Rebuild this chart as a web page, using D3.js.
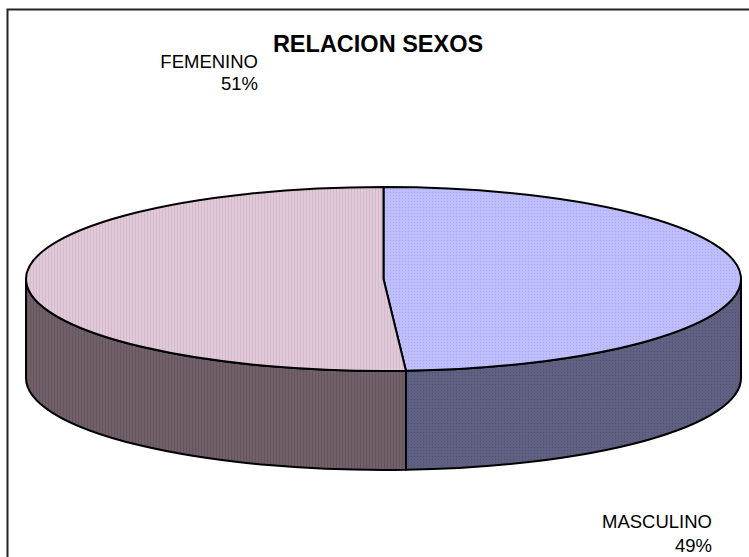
<!DOCTYPE html>
<html>
<head>
<meta charset="utf-8">
<script src="https://cdn.jsdelivr.net/npm/d3@7"></script>
<style>
  body { margin: 0; background: #fff; }
  text { font-family: "Liberation Sans", Arial, sans-serif; }
</style>
</head>
<body>
<svg id="chart" width="749" height="557"></svg>
<script>
// data
const categories = ["MASCULINO", "FEMENINO"];
const values = [49, 51];
const title = "RELACION SEXOS";

// layout
const width = 749, height = 557;
const cx = 383.5, cy = 279;   // centre of top face
const rx = 357.5, ry = 92;    // ellipse radii
const depth = 99;             // thickness of the pie

const svg = d3.select("#chart");

// textures like the excel fills
const defs = svg.append("defs");
function stripes(id, base, line) {
  const p = defs.append("pattern").attr("id", id)
    .attr("patternUnits", "userSpaceOnUse").attr("width", 3).attr("height", 3);
  p.append("rect").attr("width", 3).attr("height", 3).attr("fill", base);
  p.append("rect").attr("width", 1).attr("height", 3).attr("fill", line);
}
function dots(id, base, dot) {
  const p = defs.append("pattern").attr("id", id)
    .attr("patternUnits", "userSpaceOnUse").attr("width", 3).attr("height", 3);
  p.append("rect").attr("width", 3).attr("height", 3).attr("fill", base);
  p.append("rect").attr("width", 1).attr("height", 1).attr("fill", dot);
}
dots("topM", "#bebefc", "#a9a9ec");
stripes("topF", "#e1c9d9", "#d3bbcb");
dots("sideM", "#606083", "#52526f");
stripes("sideF", "#71606a", "#655560");
const topFill = ["url(#topM)", "url(#topF)"];
const sideFill = ["url(#sideM)", "url(#sideF)"];

// chart frame (runs off the right and bottom edge)
svg.append("path")
  .attr("d", `M7.5,${height + 5} L7.5,9.5 L${width + 5},9.5`)
  .attr("fill", "none")
  .attr("stroke", "#222")
  .attr("stroke-width", 2);

const pie = d3.pie().sort(null).startAngle(0).endAngle(2 * Math.PI);
const arcs = pie(values);

// point on the ellipse, angle measured clockwise from top
const pt = (a, dy = 0) => [cx + rx * Math.sin(a), cy - ry * Math.cos(a) + dy];

function topPath(d) {
  const p0 = pt(d.startAngle), p1 = pt(d.endAngle);
  const large = d.endAngle - d.startAngle > Math.PI ? 1 : 0;
  return `M${cx},${cy} L${p0} A${rx},${ry} 0 ${large} 1 ${p1} Z`;
}

function sidePath(d) {
  // only the front half (90deg .. 270deg) is visible
  const s = Math.max(d.startAngle, Math.PI / 2);
  const e = Math.min(d.endAngle, 3 * Math.PI / 2);
  if (e <= s) return null;
  const a = pt(s), b = pt(e), c = pt(e, depth), f = pt(s, depth);
  return `M${a} A${rx},${ry} 0 0 1 ${b} L${c} A${rx},${ry} 0 0 0 ${f} Z`;
}

const g = svg.append("g");

g.selectAll(".side")
  .data(arcs.filter(d => sidePath(d)))
  .enter().append("path")
  .attr("class", "side")
  .attr("d", sidePath)
  .attr("fill", d => sideFill[d.index])
  .attr("stroke", "#000")
  .attr("stroke-width", 2)
  .attr("stroke-linejoin", "round");

g.selectAll(".top")
  .data(arcs)
  .enter().append("path")
  .attr("class", "top")
  .attr("d", topPath)
  .attr("fill", d => topFill[d.index])
  .attr("stroke", "#000")
  .attr("stroke-width", 2)
  .attr("stroke-linejoin", "round");

// title
svg.append("text")
  .attr("x", 378)
  .attr("y", 52)
  .attr("text-anchor", "middle")
  .style("font-weight", "bold")
  .style("font-size", "23.5px")
  .text(title);

// data labels
const labelPos = [
  { x: 712, y: 528, dy: 24 },  // MASCULINO
  { x: 258, y: 68, dy: 22 }    // FEMENINO
];
const total = d3.sum(values);
arcs.forEach(d => {
  const lp = labelPos[d.index];
  const t = svg.append("text")
    .attr("text-anchor", "end")
    .style("font-size", "18.5px")
    .attr("fill", "#000");
  t.append("tspan").attr("x", lp.x).attr("y", lp.y).text(categories[d.index]);
  t.append("tspan").attr("x", lp.x).attr("y", lp.y + lp.dy)
    .text(Math.round(d.data / total * 100) + "%");
});
</script>
</body>
</html>
